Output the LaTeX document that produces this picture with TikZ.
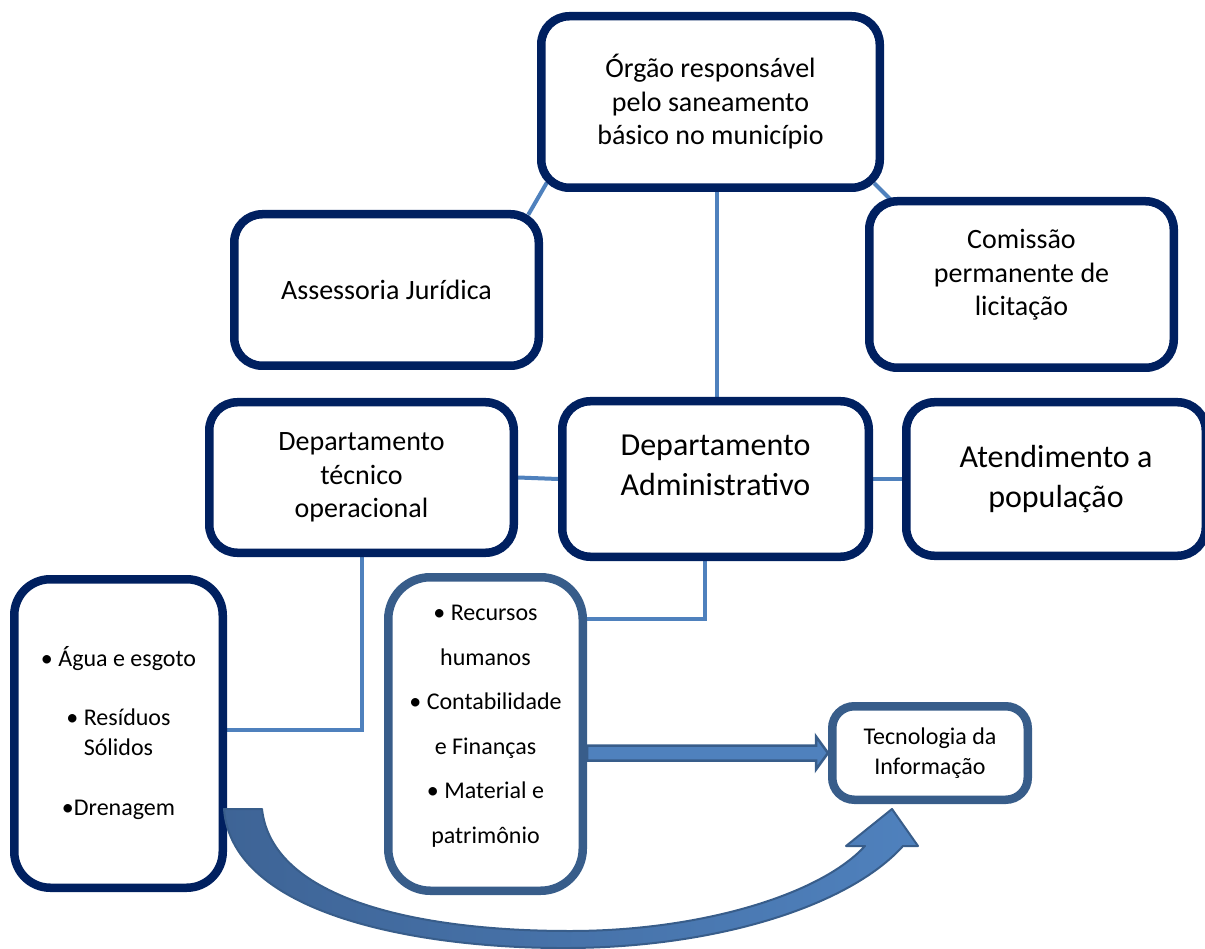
\documentclass[tikz,border=0pt]{standalone}
\usepackage{fontspec}
\setmainfont{Carlito}
\usetikzlibrary{positioning, calc, backgrounds}
\definecolor{boxnavy}{RGB}{0,32,96}
\definecolor{boxslate}{RGB}{56,93,138}
\definecolor{linkblue}{RGB}{79,129,189}
\definecolor{bowdark}{RGB}{62,100,150}

\begin{document}
\begin{tikzpicture}[x=1pt, y=-1pt,
  box/.style={draw=boxnavy, line width=8.5pt, fill=white, rounded corners=28pt, align=center, inner sep=0pt},
  subbox/.style={box, draw=boxslate},
  fbig/.style={font=\fontsize{32}{40}\selectfont},
  fmid/.style={font=\fontsize{28}{33.5}\selectfont},
  fsmall/.style={font=\fontsize{24}{30}\selectfont},
  flist/.style={font=\fontsize{24}{44.5}\selectfont},
  link/.style={draw=linkblue, line width=4pt},
  flow/.style={draw=boxslate, line width=2.5pt, fill=linkblue},
]
  \useasboundingbox (0,0) rectangle (1205,949);

  % top level
  \node[box, fmid, minimum width=338.5pt, minimum height=171.5pt] (organ) at (710.5,102) {Órgão responsável\\pelo saneamento\\básico no município};
  \node[box, fmid, minimum width=304.5pt, minimum height=151.5pt] (assess) at (386.5,290) {Assessoria Jurídica};
  \node[box, fmid, minimum width=304.5pt, minimum height=166.5pt, text depth=24pt] (comissao) at (1021.5,284.5) {Comissão\\permanente de\\licitação};

  % departments
  \node[box, fmid, minimum width=304.5pt, minimum height=150.5pt] (tecnico) at (361.5,477.5) {Departamento\\técnico\\operacional};
  \node[box, fbig, minimum width=306.5pt, minimum height=155.5pt, text depth=28pt] (admin) at (715.5,479) {Departamento\\Administrativo};
  \node[box, fbig, minimum width=299.5pt, minimum height=153.5pt] (atend) at (1056,479) {Atendimento a\\população};

  % sectors
  \node[box, fsmall, rounded corners=36pt, minimum width=208.5pt, minimum height=308.5pt] (agua) at (118.5,733.5) {• Água e esgoto\\[29pt]• Resíduos\\Sólidos\\[30pt]•Drenagem};
  \node[subbox, flist, rounded corners=42pt, minimum width=194.5pt, minimum height=313.5pt, text depth=19pt] (recursos) at (485.5,734) {• Recursos\\humanos\\• Contabilidade\\e Finanças\\• Material e\\patrimônio};
  \node[subbox, fsmall, rounded corners=22pt, minimum width=195.5pt, minimum height=93.5pt] (ti) at (930,753) {Tecnologia da\\Informação};

  \begin{scope}[on background layer]
    \draw[link] ($(organ.south)+(6.5,0)$) -- ($(admin.north)+(1.5,0)$);
    \draw[link] ($(organ.south west)+(9.75,-9.25)$) -- ($(assess.north east)+(-14.75,4.75)$);
    \draw[link] ($(organ.south east)+(-9.75,-8.75)$) -- ($(comissao.north west)+(26.75,3.75)$);
    \draw[link] (tecnico.east) -- (admin.west);
    \draw[link] (admin.east) -- (atend.west);
    \draw[link] (tecnico.south) |- ($(agua.east)+(0,-4)$);
    \draw[link] ($(admin.south)+(-11,0)$) |- ($(recursos.north east)+(0,46)$);
    \path let \p1=(recursos.east |- ti.west), \p2=(ti.west) in
      [flow] (\x1,\y2+7.5pt) -- (\x2-12pt,\y2+7.5pt) -- (\x2-12pt,\y2+16.5pt) -- (\x2,\y2)
      -- (\x2-12pt,\y2-16.5pt) -- (\x2-12pt,\y2-7.5pt) -- (\x1,\y2-7.5pt) -- cycle;
  \end{scope}

  % curved arrow
  \shadedraw[left color=bowdark, right color=linkblue, draw=boxslate, line width=2pt, line join=round]
    (224,809) .. controls (232,915) and (420,949) .. (570,948)
    .. controls (720,947) and (850,905) .. (903,846)
    -- (918,846) -- (892,809) -- (846,846) -- (865,846)
    .. controls (820,895) and (700,931) .. (570,931)
    .. controls (420,931) and (272,900) .. (262,809) -- cycle;
\end{tikzpicture}
\end{document}
